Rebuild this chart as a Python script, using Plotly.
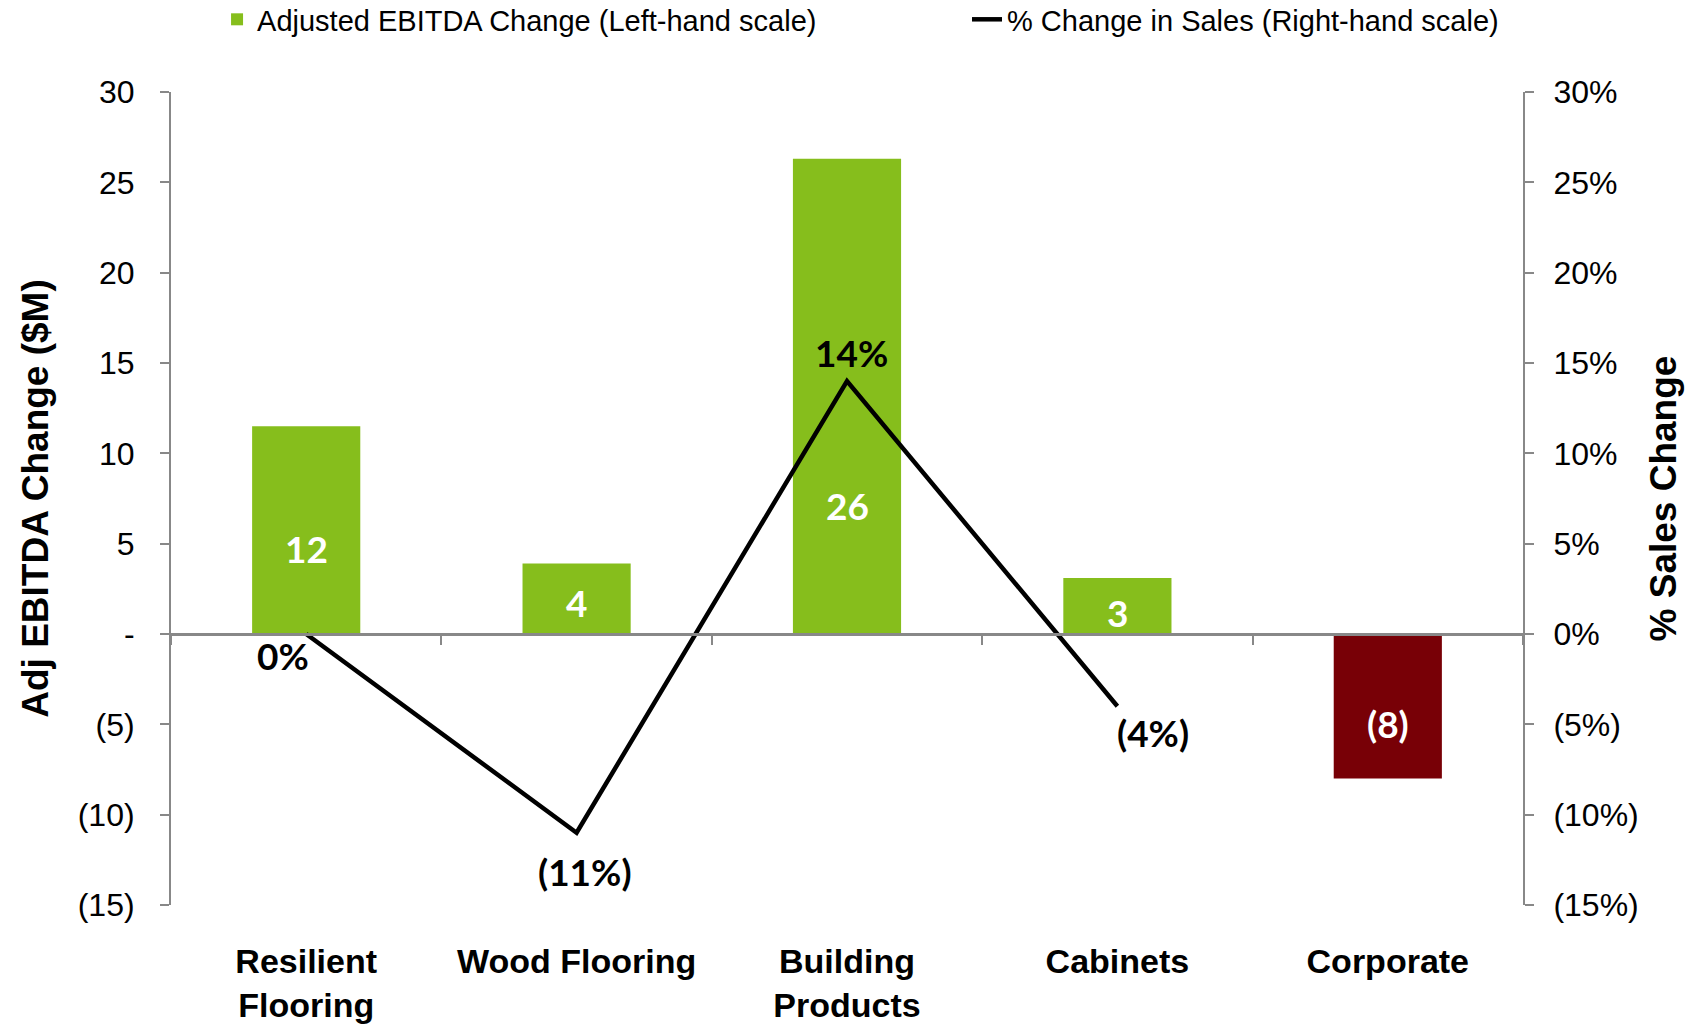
import plotly.graph_objects as go

categories = ["Resilient<br>Flooring", "Wood Flooring", "Building<br>Products", "Cabinets", "Corporate"]
ebitda_change = [11.5, 3.9, 26.3, 3.1, -8.0]
ebitda_labels = ["12", "4", "26", "3", "(8)"]
sales_change_pct = [0, -11, 14, -4, None]
sales_labels = ["0%", "(11%)", "14%", "(4%)", ""]
left_ticks = [-15, -10, -5, 0, 5, 10, 15, 20, 25, 30]
left_ticktext = ["(15)", "(10)", "(5)", "-", "5", "10", "15", "20", "25", "30"]
right_ticktext = ["(15%)", "(10%)", "(5%)", "0%", "5%", "10%", "15%", "20%", "25%", "30%"]

# styles
GREEN = "#86BE1C"
RED = "#780006"
AXIS = "#888888"
FONT = "Liberation Sans, Arial, sans-serif"
LABEL_FONT = "Lato, Liberation Sans, sans-serif"
bar_label_frac = [0.41, 0.45, 0.27, 0.39, 0.62]
sales_label_shift = [(-23, -21), (8, -39), (4, 29), (36, -26), (0, 0)]

fig = go.Figure()
fig.add_trace(go.Bar(
    x=categories, y=ebitda_change,
    name="Adjusted EBITDA Change (Left-hand scale)",
    marker=dict(color=[GREEN if v >= 0 else RED for v in ebitda_change], line=dict(width=0)),
    width=0.4, xaxis="x", yaxis="y", hoverinfo="x+y", legend="legend",
))
fig.add_trace(go.Scatter(
    x=categories, y=sales_change_pct,
    name="% Change in Sales (Right-hand scale)",
    mode="lines", line=dict(color="black", width=4.5),
    xaxis="x2", yaxis="y2", connectgaps=False, legend="legend2",
))

annotations = []
for c, v, t, f in zip(categories, ebitda_change, ebitda_labels, bar_label_frac):
    annotations.append(dict(x=c, y=v * f, xref="x", yref="y", text="<b>%s</b>" % t,
                            showarrow=False, font=dict(family=LABEL_FONT, size=37, color="white")))
for c, v, t, (dx, dy) in zip(categories, sales_change_pct, sales_labels, sales_label_shift):
    if v is None:
        continue
    annotations.append(dict(x=c, y=v, xref="x2", yref="y2", text="<b>%s</b>" % t,
                            showarrow=False, xshift=dx, yshift=dy,
                            font=dict(family=LABEL_FONT, size=37, color="black")))

legend_common = dict(orientation="h", xref="container", yref="container", y=0.981,
                     xanchor="left", yanchor="middle", font=dict(size=29),
                     itemwidth=30, bgcolor="rgba(0,0,0,0)")

fig.update_layout(
    width=1701, height=1024,
    margin=dict(l=171, r=178, t=92, b=119, autoexpand=False),
    paper_bgcolor="white", plot_bgcolor="white",
    font=dict(family=FONT, color="black"),
    bargap=0.6,
    showlegend=True,
    legend=dict(x=0.1276, **legend_common),
    legend2=dict(x=0.5685, **legend_common),
    xaxis=dict(type="category", categoryarray=categories, range=[-0.5, 4.5],
               showline=False, showgrid=False, zeroline=False,
               ticks="outside", ticklen=26, tickcolor="rgba(0,0,0,0)",
               tickfont=dict(size=34, family=FONT, weight="bold")),
    xaxis2=dict(type="category", categoryarray=categories, overlaying="x", anchor="free",
                position=15 / 45, side="bottom", range=[-0.5, 4.5], tickson="boundaries",
                showticklabels=False, ticks="outside", ticklen=9, tickwidth=2,
                tickcolor=AXIS, showline=True, linecolor=AXIS, linewidth=2.5,
                showgrid=False, zeroline=False),
    yaxis=dict(range=[-15, 30], tickvals=left_ticks, ticktext=left_ticktext,
               showline=True, linecolor=AXIS, linewidth=2, ticks="outside", ticklen=9,
               tickwidth=2, tickcolor=AXIS, showgrid=False, zeroline=False,
               ticklabelstandoff=19, tickfont=dict(size=32),
               title=dict(text="<b>Adj EBITDA Change ($M)</b>", font=dict(size=37), standoff=18)),
    yaxis2=dict(overlaying="y", side="right", range=[-15, 30], tickvals=left_ticks,
                ticktext=right_ticktext, showline=True, linecolor=AXIS, linewidth=2,
                ticks="outside", ticklen=9, tickwidth=2, tickcolor=AXIS,
                showgrid=False, zeroline=False, ticklabelstandoff=13, tickfont=dict(size=32),
                title=dict(text="<b>% Sales Change</b>", font=dict(size=37), standoff=12)),
    annotations=annotations,
)

fig.write_html("out.html")
